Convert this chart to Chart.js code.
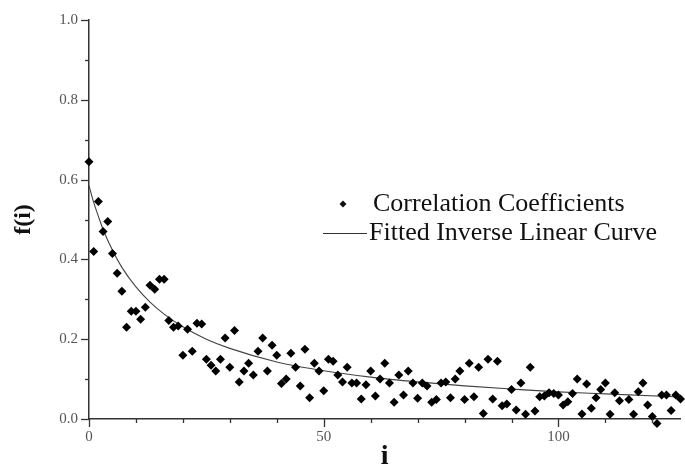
<!DOCTYPE html>
<html>
<head>
<meta charset="utf-8">
<script src="https://cdn.jsdelivr.net/npm/chart.js@4.4.1/dist/chart.umd.min.js"></script>
<style>
  html, body { margin: 0; padding: 0; background: #fff; }
  #wrap { width: 685px; height: 471px; }
</style>
</head>
<body>
<div id="wrap"><canvas id="chart" width="685" height="471"></canvas></div>
<script>
// Values
const indexValues = [
  0, 1, 2, 3, 4, 5, 6, 7, 8, 9, 10, 11, 12, 13, 14, 15, 16, 17, 18, 19,
  20, 21, 22, 23, 24, 25, 26, 27, 28, 29, 30, 31, 32, 33, 34, 35, 36, 37, 38, 39,
  40, 41, 42, 43, 44, 45, 46, 47, 48, 49, 50, 51, 52, 53, 54, 55, 56, 57, 58, 59,
  60, 61, 62, 63, 64, 65, 66, 67, 68, 69, 70, 71, 72, 73, 74, 75, 76, 77, 78, 79,
  80, 81, 82, 83, 84, 85, 86, 87, 88, 89, 90, 91, 92, 93, 94, 95, 96, 97, 98, 99,
  100, 101, 102, 103, 104, 105, 106, 107, 108, 109, 110, 111, 112, 113, 114, 115, 116, 117, 118, 119,
  120, 121, 122, 123, 124, 125, 126
];
const coefficientValues = [
  0.645, 0.42, 0.545, 0.47, 0.495, 0.415, 0.365, 0.32, 0.23, 0.27, 0.27, 0.25, 0.28, 0.335, 0.325, 0.35, 0.35, 0.247, 0.23, 0.233,
  0.16, 0.225, 0.17, 0.24, 0.238, 0.15, 0.135, 0.12, 0.15, 0.203, 0.13, 0.222, 0.093, 0.12, 0.14, 0.11, 0.17, 0.203, 0.12, 0.185,
  0.16, 0.089, 0.10, 0.165, 0.13, 0.0825, 0.175, 0.053, 0.14, 0.12, 0.071, 0.15, 0.145, 0.11, 0.093, 0.13, 0.09, 0.09, 0.05, 0.086,
  0.12, 0.0575, 0.10, 0.14, 0.09, 0.042, 0.11, 0.06, 0.12, 0.09, 0.052, 0.09, 0.0825, 0.042, 0.049, 0.09, 0.093, 0.053, 0.10, 0.12,
  0.049, 0.14, 0.056, 0.13, 0.014, 0.15, 0.05, 0.145, 0.033, 0.0375, 0.074, 0.0225, 0.09, 0.012, 0.13, 0.02, 0.056, 0.0575, 0.066, 0.064,
  0.06, 0.035, 0.043, 0.064, 0.10, 0.0125, 0.0875, 0.027, 0.053, 0.074, 0.09, 0.012, 0.066, 0.046, -0.023, 0.049, 0.012, 0.068, 0.09, 0.035,
  0.006, -0.011, 0.06, 0.06, 0.021, 0.06, 0.05
];
const curveIndex = [0, 1, 2, 3, 5, 7, 10, 13, 16, 20, 25, 30, 40, 50, 60, 70, 80, 90, 100, 110, 126];
const curveValues = [0.585, 0.543, 0.508, 0.475, 0.423, 0.38, 0.331, 0.293, 0.263, 0.231, 0.2, 0.177, 0.143, 0.121, 0.105, 0.093, 0.083, 0.075, 0.068, 0.063, 0.055];
const xTickLabels = [0, 50, 100];
const yTickLabels = ['0.0', '0.2', '0.4', '0.6', '0.8', '1.0'];

const serif = '"Liberation Serif", "DejaVu Serif", serif';
const axisColor = '#333';

// Outward tick marks: long at labelled values, short in between
const tickMarks = {
  id: 'tickMarks',
  afterDraw(chart) {
    const ctx = chart.ctx;
    const xs = chart.scales.x;
    const ys = chart.scales.y;
    ctx.save();
    ctx.strokeStyle = axisColor;
    ctx.lineWidth = 1.3;
    for (let v = 0; v <= 126; v += 10) {
      const px = Math.round(xs.getPixelForValue(v)) + 0.5;
      const len = xTickLabels.includes(v) ? 8 : 4;
      ctx.beginPath();
      ctx.moveTo(px, ys.bottom);
      ctx.lineTo(px, ys.bottom + len);
      ctx.stroke();
    }
    for (let k = 0; k <= 10; k++) {
      const py = Math.round(ys.getPixelForValue(k / 10)) + 0.5;
      const len = k % 2 === 0 ? 8 : 4;
      ctx.beginPath();
      ctx.moveTo(xs.left, py);
      ctx.lineTo(xs.left - len, py);
      ctx.stroke();
    }
    ctx.restore();
  }
};

// Legend sitting inside the plot, as in the figure
const innerLegend = {
  id: 'innerLegend',
  afterDraw(chart) {
    const ctx = chart.ctx;
    ctx.save();
    ctx.fillStyle = '#111';
    ctx.strokeStyle = '#333';
    // diamond marker
    const dx = 343, dy = 204, r = 3.5;
    ctx.beginPath();
    ctx.moveTo(dx, dy - r);
    ctx.lineTo(dx + r, dy);
    ctx.lineTo(dx, dy + r);
    ctx.lineTo(dx - r, dy);
    ctx.closePath();
    ctx.fill();
    // line sample
    ctx.lineWidth = 1;
    ctx.beginPath();
    ctx.moveTo(323, 233.5);
    ctx.lineTo(367, 233.5);
    ctx.stroke();
    ctx.font = '26px ' + serif;
    ctx.textBaseline = 'middle';
    ctx.fillText(chart.data.datasets[0].label, 373, 204);
    ctx.fillText(chart.data.datasets[1].label, 369, 233);
    ctx.restore();
  }
};

const ctx = document.getElementById('chart').getContext('2d');
const chart = new Chart(ctx, {
  type: 'scatter',
  data: {
    datasets: [
      {
        label: 'Correlation Coefficients',
        data: indexValues.map((x, k) => ({ x: x, y: coefficientValues[k] })),
        pointStyle: 'rectRot',
        pointRadius: 4.5,
        pointBackgroundColor: '#000',
        pointBorderColor: '#000',
        pointBorderWidth: 0,
        showLine: false,
        clip: false
      },
      {
        label: 'Fitted Inverse Linear Curve',
        data: curveIndex.map((x, k) => ({ x: x, y: curveValues[k] })),
        showLine: true,
        pointRadius: 0,
        borderColor: '#444',
        borderWidth: 1.1,
        cubicInterpolationMode: 'monotone'
      }
    ]
  },
  options: {
    responsive: false,
    animation: false,
    layout: { padding: { top: 19, right: 0, left: 0, bottom: 0 } },
    plugins: {
      legend: { display: false },
      tooltip: { enabled: false }
    },
    scales: {
      x: {
        type: 'linear',
        min: 0,
        max: 126,
        afterFit(scale) { scale.height = 52; },
        afterBuildTicks(scale) { scale.ticks = xTickLabels.map(v => ({ value: v })); },
        grid: { display: true, drawOnChartArea: false, drawTicks: false },
        border: { display: true, color: axisColor, width: 1.5 },
        ticks: {
          padding: 9,
          color: '#555',
          font: { family: serif, size: 15 },
          maxRotation: 0,
          callback: v => String(v)
        },
        title: {
          display: true,
          text: 'i',
          color: '#111',
          font: { family: serif, size: 28, weight: 'bold', lineHeight: 1.0 },
          padding: { top: 0, bottom: 0 }
        }
      },
      y: {
        type: 'linear',
        min: 0,
        max: 1,
        afterFit(scale) { scale.width = 89; },
        afterBuildTicks(scale) { scale.ticks = yTickLabels.map(s => ({ value: parseFloat(s) })); },
        grid: { display: true, drawOnChartArea: false, drawTicks: false },
        border: { display: true, color: axisColor, width: 1.5 },
        ticks: {
          padding: 11,
          color: '#555',
          font: { family: serif, size: 15 },
          callback: v => yTickLabels.find(s => parseFloat(s) === v)
        },
        title: {
          display: true,
          text: 'f(i)',
          color: '#111',
          font: { family: serif, size: 24, weight: 'bold', lineHeight: 1.0 },
          padding: { top: 12, bottom: 0 }
        }
      }
    }
  },
  plugins: [tickMarks, innerLegend]
});
</script>
</body>
</html>
